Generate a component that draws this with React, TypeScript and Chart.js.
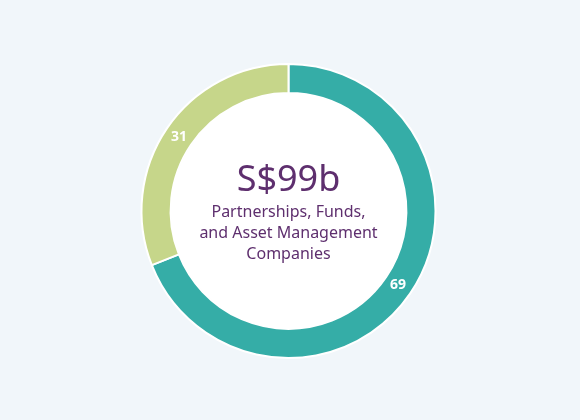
import React, { useEffect, useRef } from 'react';
import { Chart, registerables, Plugin } from 'chart.js';

Chart.register(...registerables);

const categories = ['Partnerships & Funds', 'Asset Management Companies'];
const shares = [69, 31];
const sliceColors = ['#35ada7', '#c6d68a'];
const centerTitle = 'S$99b';
const centerLines = ['Partnerships, Funds,', 'and Asset Management', 'Companies'];

const FONT = '"Noto Sans", sans-serif';
const PURPLE = '#5e2f6e';

// white disc behind the hole plus the centre caption
const centerText: Plugin<'doughnut'> = {
  id: 'centerText',
  beforeDatasetsDraw(chart) {
    const arc = chart.getDatasetMeta(0).data[0] as any;
    if (!arc) return;
    const { ctx } = chart;
    ctx.save();
    ctx.fillStyle = '#ffffff';
    ctx.beginPath();
    ctx.arc(arc.x, arc.y, arc.innerRadius + 1, 0, Math.PI * 2);
    ctx.fill();
    ctx.restore();
  },
  afterDraw(chart) {
    const arc = chart.getDatasetMeta(0).data[0] as any;
    if (!arc) return;
    const { ctx } = chart;
    const cx = arc.x;
    const cy = arc.y;
    ctx.save();
    ctx.fillStyle = PURPLE;
    ctx.textAlign = 'center';
    ctx.textBaseline = 'middle';
    ctx.font = `36px ${FONT}`;
    ctx.fillText(centerTitle, cx, cy - 30);
    ctx.font = `16px ${FONT}`;
    centerLines.forEach((line, i) => {
      ctx.fillText(line, cx, cy + 1 + i * 21);
    });
    ctx.restore();
  }
};

const sliceLabels: Plugin<'doughnut'> = {
  id: 'sliceLabels',
  afterDatasetsDraw(chart) {
    const { ctx } = chart;
    const meta = chart.getDatasetMeta(0);
    ctx.save();
    ctx.fillStyle = '#ffffff';
    ctx.font = `bold 14px ${FONT}`;
    ctx.textAlign = 'center';
    ctx.textBaseline = 'middle';
    meta.data.forEach((el: any, i) => {
      const mid = (el.startAngle + el.endAngle) / 2;
      const r = (el.innerRadius + el.outerRadius) / 2;
      ctx.fillText(String(shares[i]), el.x + Math.cos(mid) * r, el.y + Math.sin(mid) * r);
    });
    ctx.restore();
  }
};

function DonutChart() {
  const chartRef = useRef<HTMLCanvasElement>(null);
  const chartInstance = useRef<Chart | null>(null);

  useEffect(() => {
    if (!chartRef.current) return;
    if (chartInstance.current) chartInstance.current.destroy();

    chartInstance.current = new Chart(chartRef.current, {
      type: 'doughnut',
      data: {
        labels: categories,
        datasets: [{
          data: shares,
          backgroundColor: sliceColors,
          borderColor: '#ffffff',
          borderWidth: 2,
          hoverOffset: 0
        }]
      },
      options: {
        responsive: true,
        maintainAspectRatio: false,
        animation: false,
        radius: 147,
        cutout: '80.2%',
        layout: { padding: { left: 0, right: 3, top: 2, bottom: 0 } },
        plugins: {
          legend: { display: false },
          tooltip: { enabled: false }
        }
      },
      plugins: [sliceLabels, centerText]
    });

    return () => {
      if (chartInstance.current) {
        chartInstance.current.destroy();
        chartInstance.current = null;
      }
    };
  }, []);

  return (
    <div style={{ position: 'relative', width: 580, height: 420 }}>
      <canvas ref={chartRef} />
    </div>
  );
}

export default function App() {
  return (
    <div style={{ position: 'fixed', left: 0, top: 0, width: 580, height: 420, background: '#f1f6fa' }}>
      <DonutChart />
    </div>
  );
}
